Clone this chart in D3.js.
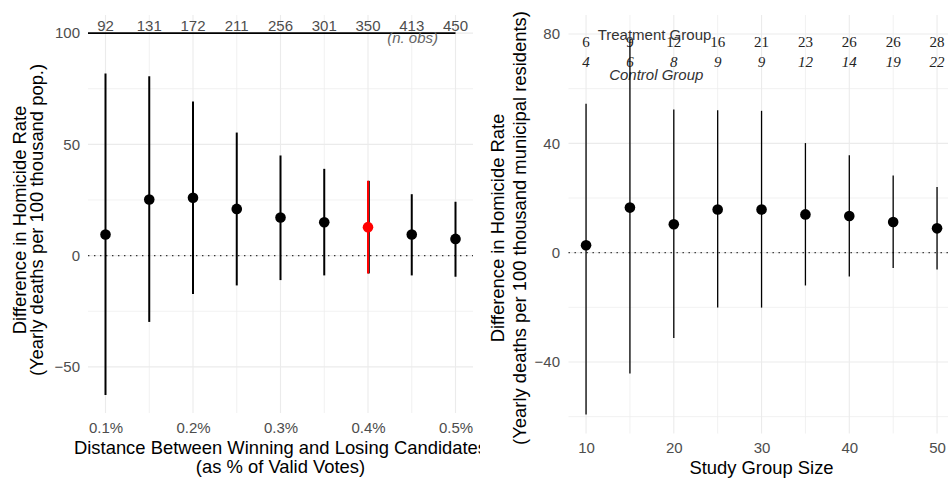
<!DOCTYPE html>
<meta charset="utf-8">
<body style="margin:0; background:#fff;">
<script src="https://d3js.org/d3.v7.min.js"></script>
<svg id="chart" width="948" height="483"></svg>
<script>
// left panel: close elections by vote margin
var marginX = [0.10, 0.15, 0.20, 0.25, 0.30, 0.35, 0.40, 0.45, 0.50];
var marginEst = [9.5, 25.2, 26, 21, 17.1, 15, 12.8, 9.5, 7.5];
var marginLo = [-62.6, -29.8, -17.3, -13.4, -11, -8.9, -8, -8.9, -9.5];
var marginHi = [81.8, 80.6, 69.3, 55.3, 45, 39, 33.6, 27.6, 24.2];
var marginObs = [92, 131, 172, 211, 256, 301, 350, 413, 450];

// right panel: study group size
var groupX = [10, 15, 20, 25, 30, 35, 40, 45, 50];
var groupEst = [2.7, 16.5, 10.4, 15.8, 15.8, 14, 13.4, 11.2, 8.9];
var groupLo = [-59.2, -44.2, -31.2, -20.1, -20.1, -12, -8.7, -5.6, -6.2];
var groupHi = [54.5, 78, 52.4, 52.1, 51.9, 40.1, 35.6, 28.2, 24];
var treatN = [6, 9, 12, 16, 21, 23, 26, 26, 28];
var controlN = [4, 6, 8, 9, 9, 12, 14, 19, 22];

var svg = d3.select("#chart");
var font = "'Liberation Sans', Arial, sans-serif";
var serif = "'Liberation Serif', 'Times New Roman', serif";
var tickSize = 15, titleSize = 18.4;

function expand(lo, hi) {
  var d = (hi - lo) * 0.05;
  return [lo - d, hi + d];
}

function grid(g, x, y, xMaj, xMin, yMaj, yMin) {
  var x0 = x.range()[0], x1 = x.range()[1], y0 = y.range()[0], y1 = y.range()[1];
  g.selectAll(".vmin").data(xMin).enter().append("line")
    .attr("x1", d => x(d)).attr("x2", d => x(d)).attr("y1", y0).attr("y2", y1)
    .attr("stroke", "#ededed").attr("stroke-width", 0.8);
  g.selectAll(".hmin").data(yMin).enter().append("line")
    .attr("y1", d => y(d)).attr("y2", d => y(d)).attr("x1", x0).attr("x2", x1)
    .attr("stroke", "#ededed").attr("stroke-width", 0.8);
  g.selectAll(".vmaj").data(xMaj).enter().append("line")
    .attr("x1", d => x(d)).attr("x2", d => x(d)).attr("y1", y0).attr("y2", y1)
    .attr("stroke", "#ebebeb").attr("stroke-width", 1.1);
  g.selectAll(".hmaj").data(yMaj).enter().append("line")
    .attr("y1", d => y(d)).attr("y2", d => y(d)).attr("x1", x0).attr("x2", x1)
    .attr("stroke", "#ebebeb").attr("stroke-width", 1.1);
}

function axes(g, x, y, xMaj, yMaj, xfmt, yfmt, labY, labX) {
  var ax = g.append("g").attr("transform", "translate(0," + labY + ")")
    .call(d3.axisBottom(x).tickValues(xMaj).tickSize(0).tickPadding(0).tickFormat(xfmt));
  ax.select(".domain").remove();
  ax.selectAll("text").attr("font-family", font).attr("font-size", tickSize).attr("fill", "#4d4d4d").attr("dy", "0.35em");
  var ay = g.append("g").attr("transform", "translate(" + labX + ",0)")
    .call(d3.axisLeft(y).tickValues(yMaj).tickSize(0).tickPadding(0).tickFormat(yfmt));
  ay.select(".domain").remove();
  ay.selectAll("text").attr("font-family", font).attr("font-size", tickSize).attr("fill", "#4d4d4d");
}

function label(g, x, y, txt, opts) {
  opts = opts || {};
  var t = g.append("text").attr("dy", "0.35em").attr("text-anchor", "middle")
    .attr("font-family", opts.family || font).attr("font-size", opts.size || titleSize)
    .attr("fill", opts.fill || "#000").text(txt);
  if (opts.italic) t.attr("font-style", "italic");
  if (opts.rotate) t.attr("transform", "translate(" + x + "," + y + ") rotate(-90)");
  else t.attr("x", x).attr("y", y);
  return t;
}

// ---------- left plot ----------
svg.append("clipPath").attr("id", "leftclip").append("rect")
  .attr("x", 0).attr("y", 0).attr("width", 480).attr("height", 483);
var L = svg.append("g").attr("clip-path", "url(#leftclip)");

var xL = d3.scaleLinear().domain(expand(0.10, 0.50)).range([88, 473]);
var yL = d3.scaleLinear().domain(expand(d3.min(marginLo), 100)).range([413, 15]);

grid(L, xL, yL, [0.1, 0.2, 0.3, 0.4, 0.5], [0.15, 0.25, 0.35, 0.45],
  [-50, 0, 50, 100], [-25, 25, 75]);
axes(L, xL, yL, [0.1, 0.2, 0.3, 0.4, 0.5], [-50, 0, 50, 100],
  d => d3.format(".1f")(d) + "%", d3.format("d"), 428, 80);

L.append("line").attr("x1", xL.range()[0]).attr("x2", xL.range()[1])
  .attr("y1", yL(0)).attr("y2", yL(0))
  .attr("stroke", "#333").attr("stroke-width", 1.4).attr("stroke-dasharray", "1.4 4.6");

L.append("line").attr("x1", xL.range()[0]).attr("x2", xL(0.5))
  .attr("y1", yL(100)).attr("y2", yL(100))
  .attr("stroke", "#000").attr("stroke-width", 1.7);

marginObs.forEach(function (d, i) {
  label(L, xL(marginX[i]), yL(103.4), d, { size: tickSize, fill: "#4d4d4d" });
});
label(L, xL(0.451), yL(97.8), "(n. obs)", { size: tickSize, fill: "#666", italic: true });

marginX.forEach(function (d, i) {
  var hot = d === 0.40;
  if (hot) {
    L.append("line").attr("x1", xL(d) + 0.8).attr("x2", xL(d) + 0.8)
      .attr("y1", yL(marginLo[i])).attr("y2", yL(marginHi[i]))
      .attr("stroke", "#000").attr("stroke-width", 2);
  }
  L.append("line").attr("x1", xL(d)).attr("x2", xL(d))
    .attr("y1", yL(marginLo[i])).attr("y2", yL(marginHi[i]))
    .attr("stroke", hot ? "#ff0000" : "#000").attr("stroke-width", 2);
  L.append("circle").attr("cx", xL(d)).attr("cy", yL(marginEst[i])).attr("r", 5.3)
    .attr("fill", hot ? "#ff0000" : "#000");
});

label(L, 20, 220, "Difference in Homicide Rate", { rotate: true });
label(L, 37, 220, "(Yearly deaths per 100 thousand pop.)", { rotate: true });
label(L, 280.5, 448, "Distance Between Winning and Losing Candidates");
label(L, 280.5, 467, "(as % of Valid Votes)");

// ---------- right plot ----------
var R = svg.append("g");
R.append("rect").attr("x", 480).attr("y", 0).attr("width", 468).attr("height", 483).attr("fill", "#fff");

var xR = d3.scaleLinear().domain(expand(10, 50)).range([568.5, 954.6]);
var yR = d3.scaleLinear().domain(expand(d3.min(groupLo), 80)).range([433.5, 15]);

grid(R, xR, yR, [10, 20, 30, 40, 50], [15, 25, 35, 45],
  [-40, 0, 40, 80], [-60, -20, 20, 60]);
axes(R, xR, yR, [10, 20, 30, 40, 50], [-40, 0, 40, 80],
  d3.format("d"), d => d < 0 ? "\u2212" + Math.abs(d) : d, 448, 560);

R.append("line").attr("x1", xR.range()[0]).attr("x2", xR.range()[1])
  .attr("y1", yR(0)).attr("y2", yR(0))
  .attr("stroke", "#333").attr("stroke-width", 1.4).attr("stroke-dasharray", "1.4 4.6");

treatN.forEach(function (d, i) {
  label(R, xR(groupX[i]), yR(77.3), d, { family: serif, size: 15, fill: "#222" });
});
controlN.forEach(function (d, i) {
  label(R, xR(groupX[i]), yR(70), d, { family: serif, size: 15, fill: "#222", italic: true });
});
label(R, xR(17.8), yR(79.8), "Treatment Group", { size: 15, fill: "#333" });
label(R, xR(18), yR(65), "Control Group", { size: 15, fill: "#333", italic: true });

groupX.forEach(function (d, i) {
  R.append("line").attr("x1", xR(d)).attr("x2", xR(d))
    .attr("y1", yR(groupLo[i])).attr("y2", yR(groupHi[i]))
    .attr("stroke", "#000").attr("stroke-width", 1.3);
  R.append("circle").attr("cx", xR(d)).attr("cy", yR(groupEst[i])).attr("r", 5.3)
    .attr("fill", "#000");
});

label(R, 498, 228, "Difference in Homicide Rate", { rotate: true });
label(R, 520, 228, "(Yearly deaths per 100 thousand municipal residents)", { rotate: true });
label(R, 761.5, 468, "Study Group Size");
</script>
</body>
